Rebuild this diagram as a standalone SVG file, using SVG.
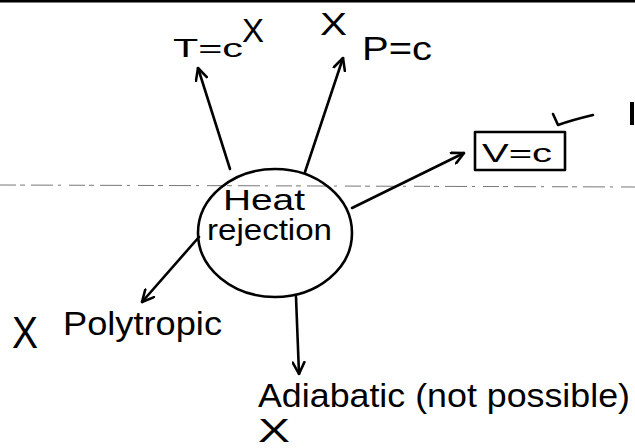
<svg xmlns="http://www.w3.org/2000/svg" width="635" height="448" viewBox="0 0 635 448">
  <style>
    .t { font-family: "Liberation Sans", "DejaVu Sans", sans-serif; fill: #000; }
    .ln { stroke: #000; stroke-width: 2.6; fill: none; stroke-linecap: round; stroke-linejoin: round; }
    .rule { stroke: #777; stroke-width: 1; stroke-dasharray: 16 4 5 6 22 5 3 8; fill: none; }
  </style>
  <defs>
    <marker id="ah" viewBox="0 0 12 12" refX="11" refY="6" markerWidth="14" markerHeight="14" markerUnits="userSpaceOnUse" orient="auto">
      <path d="M1,1 L11,6 L1,11" fill="none" stroke="#000" stroke-width="2.2" stroke-linecap="round" stroke-linejoin="round"/>
    </marker>
  </defs>
  <rect x="0" y="0" width="635" height="448" fill="#fff"/>
  <line x1="0" y1="1" x2="635" y2="1" stroke="#000" stroke-width="3"/>
  <line class="rule" x1="0" y1="185" x2="635" y2="187"/>

  <g id="connectors">
    <line class="ln" x1="230" y1="169" x2="198" y2="68" marker-end="url(#ah)"/>
    <line class="ln" x1="305" y1="172" x2="343" y2="58" marker-end="url(#ah)"/>
    <line class="ln" x1="352" y1="208" x2="464" y2="153" marker-end="url(#ah)"/>
    <line class="ln" x1="199" y1="237" x2="142" y2="302" marker-end="url(#ah)"/>
    <line class="ln" x1="296" y1="297" x2="299" y2="374" marker-end="url(#ah)"/>
  </g>

  <g id="heat-rejection">
    <ellipse class="ln" cx="275" cy="233" rx="77" ry="64"/>
    <text class="t" x="223" y="210" font-size="30" textLength="82" lengthAdjust="spacingAndGlyphs">Heat</text>
    <text class="t" x="207" y="240" font-size="30" textLength="125" lengthAdjust="spacingAndGlyphs">rejection</text>
  </g>

  <g id="t-const">
    <text class="t" x="173" y="57" font-size="25" textLength="70" lengthAdjust="spacingAndGlyphs">T=c</text>
    <text class="t" x="242" y="42" font-size="33" textLength="22" lengthAdjust="spacingAndGlyphs">X</text>
  </g>

  <g id="p-const">
    <text class="t" x="320" y="35" font-size="32" textLength="27" lengthAdjust="spacingAndGlyphs">X</text>
    <text class="t" x="362" y="60" font-size="34" textLength="70" lengthAdjust="spacingAndGlyphs">P=c</text>
  </g>

  <g id="v-const">
    <rect class="ln" x="475" y="132" width="90" height="38"/>
    <text class="t" x="482" y="162" font-size="26" textLength="70" lengthAdjust="spacingAndGlyphs">V=c</text>
    <path class="ln" d="M553,114 L558,125 Q572,120 593,115"/>
  </g>

  <g id="polytropic">
    <text class="t" x="12" y="348" font-size="44" textLength="26" lengthAdjust="spacingAndGlyphs">X</text>
    <text class="t" x="63" y="335" font-size="34" textLength="159" lengthAdjust="spacingAndGlyphs">Polytropic</text>
  </g>

  <g id="adiabatic">
    <text class="t" x="258" y="407" font-size="33" textLength="372" lengthAdjust="spacingAndGlyphs">Adiabatic (not possible)</text>
    <text class="t" x="258" y="442" font-size="34" textLength="32" lengthAdjust="spacingAndGlyphs">X</text>
  </g>

  <rect x="630" y="102" width="4" height="23" fill="#000"/>
</svg>
